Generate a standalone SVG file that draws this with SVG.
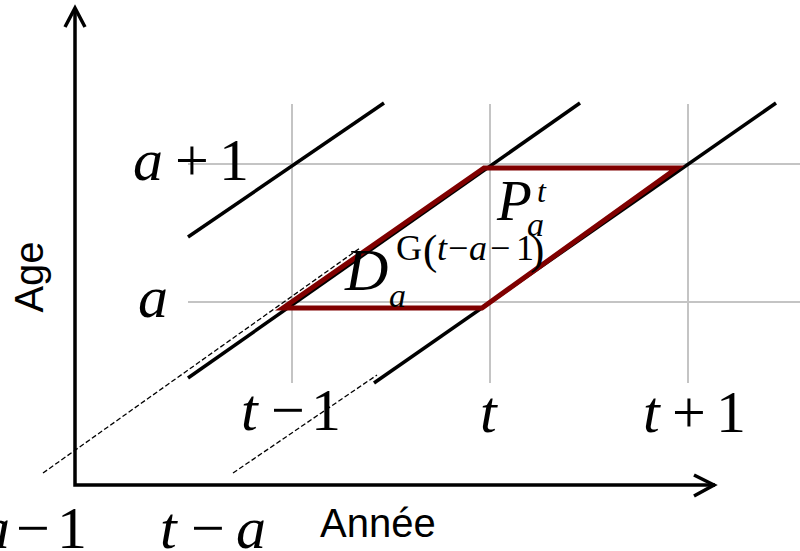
<svg xmlns="http://www.w3.org/2000/svg" width="800" height="551" viewBox="0 0 800 551">
<style>
.grid{stroke:#c4c4c4;stroke-width:2;fill:none}
.lex{stroke:#000;stroke-width:3.5;fill:none}
.dash{stroke:#000;stroke-width:1.3;stroke-dasharray:5 2.5;fill:none}
.axis{stroke:#000;stroke-width:3.5;fill:none}
.m{font-family:"Liberation Serif","Times New Roman",serif;fill:#000}
.i{font-style:italic}
.s{font-family:"Liberation Sans",Arial,sans-serif;fill:#000;font-size:40px}
</style>
<rect width="800" height="551" fill="#fff"/>
<g id="grid">
<line class="grid" x1="292" y1="104" x2="292" y2="383"/>
<line class="grid" x1="490" y1="104" x2="490" y2="383"/>
<line class="grid" x1="688" y1="104" x2="688" y2="383"/>
<line class="grid" x1="188" y1="164" x2="800" y2="164"/>
<line class="grid" x1="188" y1="302" x2="800" y2="302"/>
</g>
<g id="lexis-lines">
<line class="lex" x1="188" y1="237" x2="384" y2="103"/>
<line class="lex" x1="188" y1="378" x2="580" y2="103"/>
<line class="lex" x1="374" y1="383" x2="776" y2="103"/>
<line class="dash" x1="43" y1="473" x2="360" y2="248"/>
<line class="dash" x1="233" y1="473" x2="377" y2="375"/>
</g>
<g id="parallelogram">
<polygon points="283,308 482,308 677,168 484,168" fill="none" stroke="#800000" stroke-width="5" stroke-linejoin="miter"/>
</g>
<g id="axes">
<polyline class="axis" points="75,8 75,485 715,485"/>
<polyline class="axis" points="65,27 75,8 85,27" stroke-linejoin="miter"/>
<polyline class="axis" points="694,475 714,485 694,496" stroke-linejoin="miter"/>
</g>
<g id="age-labels" class="m" font-size="60">
<text y="180"><tspan class="i" x="133">a</tspan><tspan x="175">+</tspan><tspan x="219">1</tspan></text>
<text y="317"><tspan class="i" x="138">a</tspan></text>
</g>
<g id="year-labels" class="m" font-size="60">
<text y="430"><tspan class="i" x="241">t</tspan><tspan x="271">−</tspan><tspan x="311">1</tspan></text>
<text y="432"><tspan class="i" x="480">t</tspan></text>
<text y="432"><tspan class="i" x="643">t</tspan><tspan x="672">+</tspan><tspan x="716">1</tspan></text>
<text y="548"><tspan class="i" x="-20">a</tspan><tspan x="16">−</tspan><tspan x="57">1</tspan></text>
<text y="548"><tspan class="i" x="160">t</tspan><tspan x="191">−</tspan><tspan class="i" x="236">a</tspan></text>
</g>
<g id="label-D" class="m">
<text x="345" y="290" font-size="60" class="i">D</text>
<text x="389" y="307" font-size="34" class="i">a</text>
<text y="260" font-size="36"><tspan x="396">G</tspan></text>
<text y="264" font-size="43"><tspan x="423">(</tspan><tspan x="530">)</tspan></text>
<text y="260" font-size="36"><tspan class="i" x="437">t</tspan><tspan x="448">−</tspan><tspan class="i" x="469">a</tspan><tspan x="490">−</tspan><tspan x="516">1</tspan></text>
</g>
<g id="label-P" class="m">
<text x="497" y="220" font-size="57" class="i">P</text>
<text x="537" y="202" font-size="32" class="i">t</text>
<text x="527" y="236" font-size="34" class="i">a</text>
</g>
<g id="axis-titles">
<text class="s" x="320" y="537">Année</text>
<text class="s" transform="translate(43,277) rotate(-90)" text-anchor="middle">Age</text>
</g>
</svg>
